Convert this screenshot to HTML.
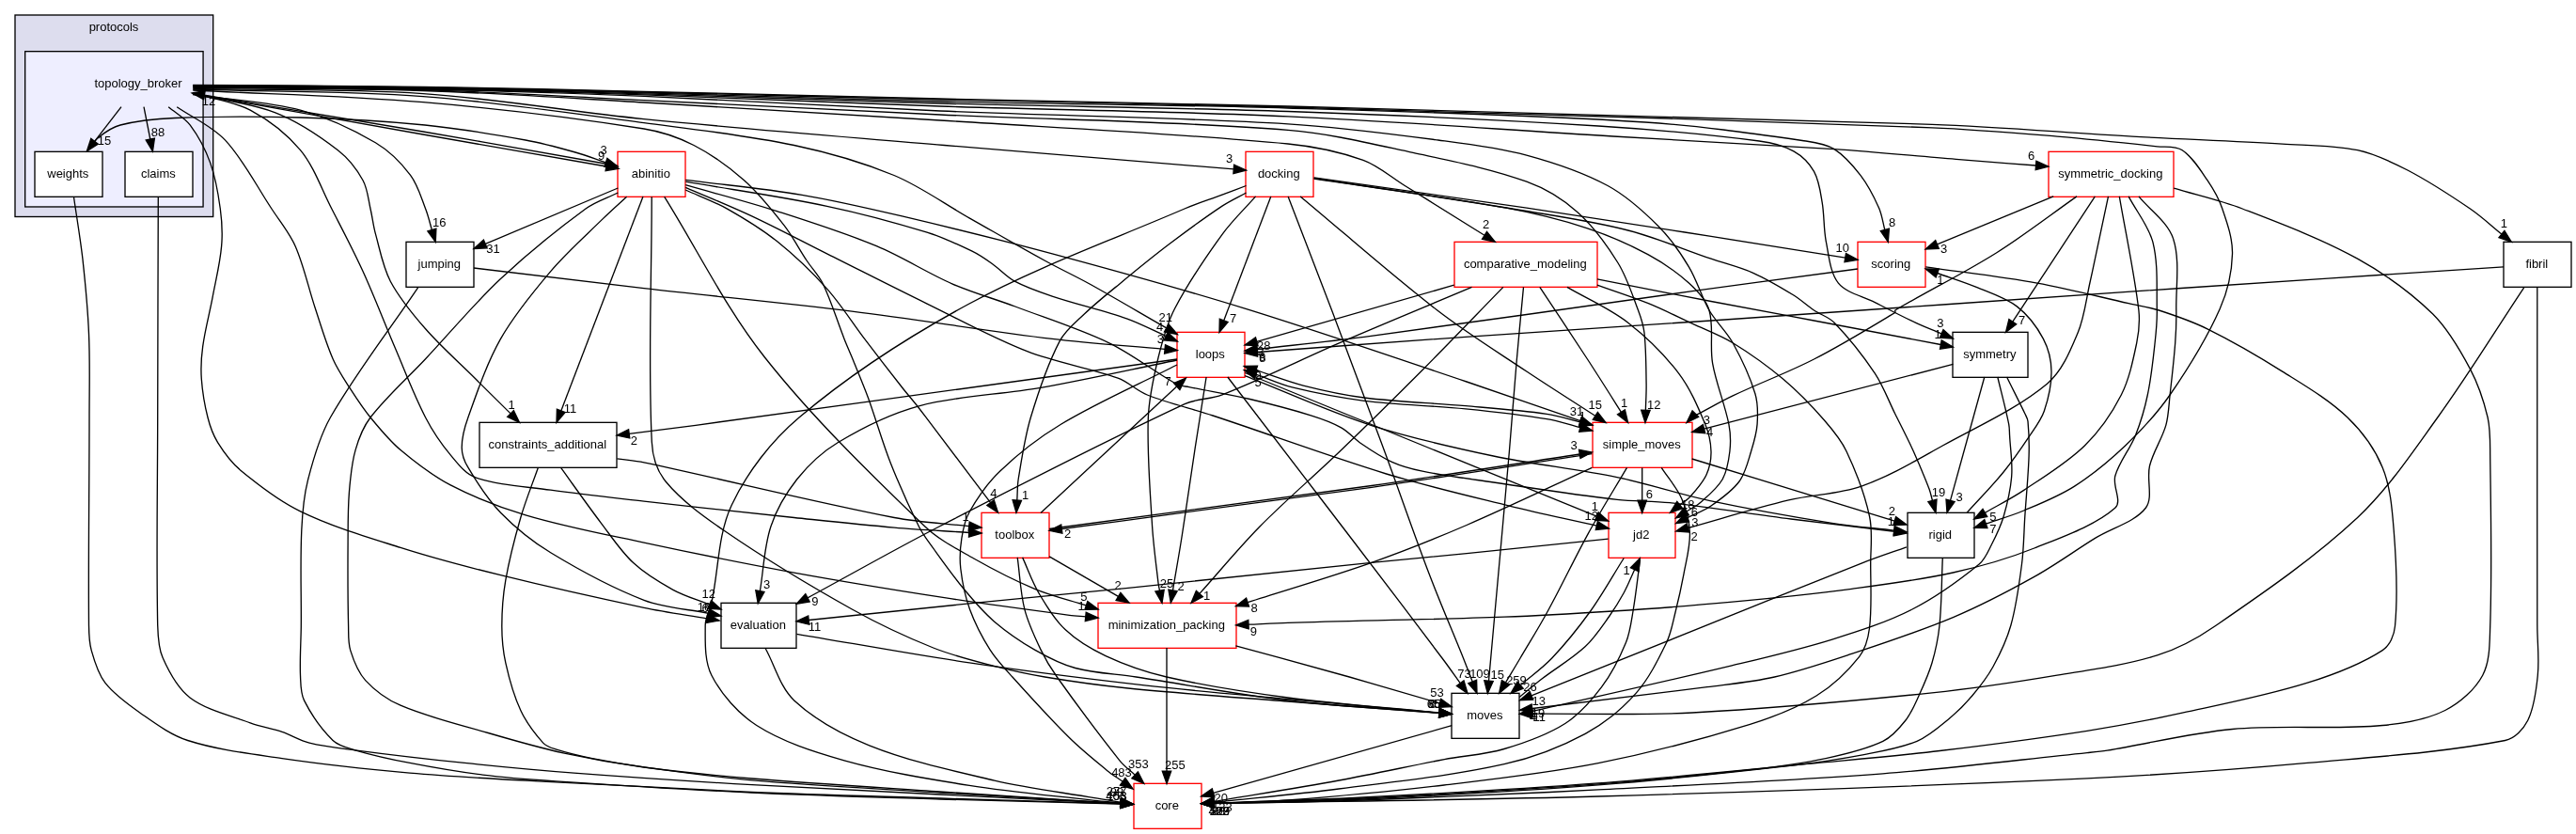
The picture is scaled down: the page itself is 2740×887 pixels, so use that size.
<!DOCTYPE html><html><head><meta charset="utf-8"><title>protocols/topology_broker</title><style>html,body{margin:0;padding:0;background:#fff;overflow:hidden}svg{display:block}text{font-family:"Liberation Sans",sans-serif;font-size:13px;fill:#000}</style></head><body>
<svg width="2740" height="887" viewBox="0 0 2740 887">
<rect x="0" y="0" width="2740" height="887" fill="#fff"/>
<rect x="16" y="16" width="210.7" height="214.5" fill="#ddddee" stroke="#000" stroke-width="1.33"/>
<rect x="26.67" y="54.67" width="189.4" height="165.3" fill="#eeeeff" stroke="#000" stroke-width="1.33"/>
<rect x="37" y="161.33" width="72" height="48" fill="white" stroke="black" stroke-width="1.33"/>
<rect x="133" y="161.33" width="72" height="48" fill="white" stroke="black" stroke-width="1.33"/>
<rect x="657" y="161.33" width="72" height="48" fill="white" stroke="red" stroke-width="1.33"/>
<rect x="1325" y="161.33" width="72" height="48" fill="white" stroke="red" stroke-width="1.33"/>
<rect x="2179" y="161.33" width="133" height="48" fill="white" stroke="red" stroke-width="1.33"/>
<rect x="432" y="257.33" width="72" height="48" fill="white" stroke="black" stroke-width="1.33"/>
<rect x="1547" y="257.33" width="152" height="48" fill="white" stroke="red" stroke-width="1.33"/>
<rect x="1976" y="257.33" width="72" height="48" fill="white" stroke="red" stroke-width="1.33"/>
<rect x="2663" y="257.33" width="72" height="48" fill="white" stroke="black" stroke-width="1.33"/>
<rect x="1252" y="353.33" width="72" height="48" fill="white" stroke="red" stroke-width="1.33"/>
<rect x="2077" y="353.33" width="80" height="48" fill="white" stroke="black" stroke-width="1.33"/>
<rect x="510" y="449.33" width="146" height="48" fill="white" stroke="black" stroke-width="1.33"/>
<rect x="1694" y="449.33" width="106" height="48" fill="white" stroke="red" stroke-width="1.33"/>
<rect x="1044" y="545.33" width="72" height="48" fill="white" stroke="red" stroke-width="1.33"/>
<rect x="1711" y="545.33" width="71" height="48" fill="white" stroke="red" stroke-width="1.33"/>
<rect x="2029" y="545.33" width="71" height="48" fill="white" stroke="black" stroke-width="1.33"/>
<rect x="767" y="641.33" width="80" height="48" fill="white" stroke="black" stroke-width="1.33"/>
<rect x="1168" y="641.33" width="147" height="48" fill="white" stroke="red" stroke-width="1.33"/>
<rect x="1544" y="737.33" width="72" height="48" fill="white" stroke="black" stroke-width="1.33"/>
<rect x="1206" y="833.33" width="72" height="48" fill="white" stroke="red" stroke-width="1.33"/>
<g fill="none" stroke="#000" stroke-width="1.33">
<path d="M78.5,209.5 C81.6,231.4 85.4,253.3 87.9,275.2 C90.8,301.8 93.4,328.4 94.5,355.1 C95.8,384.7 95.0,414.4 95.0,444.0 C95.0,517.7 93.9,591.4 94.5,665.0 C94.6,673.9 94.8,683.1 97.2,691.6 C100.5,703.5 104.3,716.6 111.8,726.2 C121.6,738.8 135.7,748.9 149.1,758.2 C165.0,769.3 181.4,781.6 199.7,787.5 C231.7,797.7 266.3,801.6 300.0,806.6 C345.1,813.2 390.5,818.1 435.9,822.1 C481.1,826.1 526.4,828.3 571.7,830.8 C647.8,835.1 723.9,839.3 800.0,842.5 C866.6,845.3 933.3,846.9 1000.0,849.0 C1064.0,851.0 1128.0,852.9 1192.0,854.9"/>
<path d="M93.0,161.0 C97.0,156.0 100.1,149.9 105.0,146.0 C111.8,140.6 119.6,135.1 128.0,133.0 C146.6,128.3 166.6,126.3 186.0,125.5 C230.6,123.6 275.4,123.7 320.0,125.0 C364.0,126.2 408.2,128.6 452.0,133.0 C487.8,136.6 523.5,142.6 559.0,149.0 C576.9,152.2 594.5,157.1 612.0,162.0 C623.0,165.1 633.6,169.2 644.4,172.8"/>
<path d="M168.3,209.5 C168.1,287.7 167.8,365.8 167.7,444.0 C167.6,517.7 166.2,591.5 167.7,665.0 C168.0,676.7 168.4,689.2 173.1,699.6 C179.9,715.0 189.1,732.3 202.3,742.2 C220.1,755.4 244.6,760.8 266.2,768.8 C277.2,772.9 288.9,774.7 300.0,778.4 C309.9,781.8 319.0,787.6 329.1,790.1 C344.9,794.0 361.4,795.7 377.6,797.8 C416.4,802.9 455.2,807.4 494.1,811.4 C532.9,815.5 571.7,819.2 610.6,822.1 C673.7,826.9 736.8,831.0 800.0,834.7 C866.6,838.6 933.3,841.6 1000.0,845.0 C1064.0,848.2 1128.0,851.4 1192.0,854.6"/>
<path d="M129.0,113.7 L100.6,150.3"/>
<path d="M153.0,113.7 L159.8,148.0"/>
<path d="M179.2,113.7 C186.9,120.2 196.4,125.2 202.3,133.1 C211.2,145.0 218.6,159.0 223.6,173.1 C229.2,188.6 232.1,205.6 234.3,222.0 C236.1,235.2 236.8,248.7 235.6,261.9 C234.1,279.8 229.6,297.5 226.3,315.2 C223.0,333.0 218.1,350.6 215.7,368.4 C214.1,379.8 213.5,391.6 214.3,403.0 C215.3,416.8 217.6,430.7 221.0,444.0 C223.3,453.2 226.7,462.6 231.6,470.6 C238.2,481.2 246.0,491.9 255.6,499.9 C275.3,516.3 296.4,532.7 319.5,543.8 C353.2,560.2 390.0,571.0 426.0,582.4 C461.0,593.6 496.7,602.9 532.5,611.7 C583.1,624.2 634.0,635.6 685.0,646.3 C707.2,651.0 729.6,654.0 751.9,657.8"/>
<path d="M188.2,113.7 C205.4,125.5 225.7,134.1 239.6,149.1 C259.2,170.2 272.7,197.6 288.9,222.0 C297.5,235.2 307.9,247.6 314.2,261.9 C323.4,283.1 328.1,306.4 335.5,328.5 C341.4,346.3 346.6,364.6 354.1,381.7 C359.0,393.0 366.1,403.3 372.7,413.7 C379.4,424.1 386.2,434.5 394.0,444.0 C404.0,456.1 414.1,468.6 426.0,478.6 C442.5,492.5 460.1,506.0 479.2,515.9 C504.5,529.0 531.7,539.7 559.1,547.8 C600.3,560.1 642.9,568.1 685.0,577.1 C738.1,588.5 791.4,599.3 844.7,609.1 C897.8,618.8 951.1,627.4 1004.5,635.7 C1048.8,642.5 1093.2,648.4 1137.6,654.3 C1143.3,655.1 1149.0,655.3 1154.8,655.8"/>
<path d="M205.0,99.0 C225.4,105.1 247.8,107.4 266.2,117.1 C285.9,127.6 305.3,142.6 319.5,159.7 C334.2,177.5 342.0,201.1 352.8,222.0 C364.1,244.1 375.8,266.0 386.0,288.6 C398.4,315.7 408.9,343.7 420.7,371.1 C431.1,395.5 440.4,420.6 452.6,444.0 C459.9,458.2 469.1,471.8 479.2,483.9 C486.8,493.0 495.0,504.1 505.9,507.9 C530.5,516.5 559.0,517.4 585.7,521.2 C618.7,525.9 651.9,529.4 685.0,533.2 C738.2,539.2 791.5,544.9 844.7,550.5 C880.2,554.2 915.7,558.1 951.2,561.1 C977.8,563.4 1004.8,564.7 1031.1,566.5 C1031.2,566.5 1030.8,566.5 1030.7,566.5"/>
<path d="M205.0,99.8 C234.3,106.5 265.2,109.1 292.9,119.8 C316.7,129.0 339.2,144.1 359.4,159.7 C370.3,168.1 379.5,179.9 386.0,191.7 C391.0,200.6 391.7,211.9 394.0,222.0 C396.1,230.8 397.0,239.9 399.4,248.6 C404.1,265.6 407.2,283.8 415.3,299.2 C425.0,317.5 438.9,334.1 452.6,349.8 C469.1,368.7 488.1,385.3 505.9,403.0 C518.2,415.4 530.7,427.6 543.1,439.9"/>
<path d="M205.0,100.6 C243.2,106.1 282.5,107.4 319.5,117.1 C347.3,124.5 374.7,137.2 399.4,151.8 C413.8,160.3 426.6,173.1 436.6,186.4 C444.3,196.5 447.9,209.9 452.6,222.0 C455.5,229.3 457.2,237.1 459.4,244.6"/>
<path d="M205.3,99.5 C286.9,114.0 368.4,128.6 450.0,143.0 C514.9,154.5 579.9,165.7 644.9,177.0"/>
<path d="M657.4,176.5 C588.3,164.3 519.2,151.8 450.0,140.0 C372.5,126.7 294.9,114.1 217.4,101.2"/>
<path d="M657.3,200.0 L516.3,259.4"/>
<path d="M657.3,205.0 C645.9,210.7 633.2,214.5 623.0,222.0 C591.6,245.0 560.9,269.9 532.5,296.5 C504.1,323.1 479.3,353.4 452.6,381.7 C433.1,402.5 411.2,421.7 394.0,444.0 C386.4,454.0 381.5,466.5 378.1,478.6 C373.9,493.1 372.6,508.7 371.4,523.9 C370.0,541.5 370.2,559.4 370.1,577.1 C369.9,606.8 369.9,636.4 370.6,666.0 C370.8,674.6 370.2,683.6 372.7,691.6 C376.2,702.8 380.9,715.0 388.7,723.6 C398.7,734.5 412.1,744.2 426.0,750.2 C455.6,762.9 487.9,770.4 519.2,779.5 C545.6,787.2 572.2,794.9 599.0,800.8 C627.4,807.0 656.2,812.1 685.0,816.0 C723.2,821.1 761.6,824.8 800.0,828.0 C866.6,833.5 933.3,837.5 1000.0,842.0 C1064.0,846.3 1128.0,850.3 1192.0,854.4"/>
<path d="M666.6,209.2 C657.7,217.4 648.6,225.4 640.0,233.9 C621.7,251.9 602.3,269.1 585.7,288.6 C566.5,311.2 547.0,334.7 532.5,360.4 C517.8,386.5 508.0,415.7 497.9,444.0 C494.2,454.2 491.2,465.4 491.2,475.9 C491.2,483.2 494.1,490.9 497.9,497.2 C507.9,514.0 518.9,531.2 532.5,545.2 C548.2,561.3 566.4,576.0 585.7,587.8 C617.3,607.0 650.7,625.1 685.0,638.4 C706.7,646.7 730.9,647.7 753.8,652.3"/>
<path d="M693.2,209.2 C693.3,296.1 689.1,383.8 693.3,470.0 C694.0,484.7 698.9,500.9 708.0,512.0 C725.1,532.8 749.1,549.8 772.0,565.5 C815.2,595.1 860.5,622.4 906.3,648.0 C934.1,663.5 963.2,677.2 992.7,689.0 C1013.5,697.3 1035.6,702.7 1057.4,708.4 C1075.2,713.0 1093.2,717.0 1111.4,720.0 C1140.8,724.9 1170.4,729.0 1200.0,732.0 C1256.6,737.7 1313.3,741.5 1370.0,746.0 C1423.6,750.3 1477.3,754.3 1530.9,758.4"/>
<path d="M706.6,209.2 C742.2,266.1 771.9,327.6 813.4,380.0 C864.4,444.5 924.6,503.0 983.9,560.0 C998.7,574.3 1017.9,583.8 1035.8,594.0 C1056.8,605.9 1078.4,617.1 1100.6,626.3 C1118.2,633.7 1137.1,638.1 1155.3,643.9"/>
<path d="M684.0,209.0 L596.8,436.9"/>
<path d="M729.2,191.3 C770.5,196.7 812.0,200.4 853.0,207.3 C888.8,213.3 924.2,221.6 959.5,229.9 C1012.9,242.5 1066.2,255.6 1119.2,269.9 C1188.1,288.4 1256.9,307.4 1325.0,328.4 C1403.8,352.8 1481.8,379.8 1560.0,406.0 C1600.5,419.6 1640.7,433.8 1681.1,447.7"/>
<path d="M729.2,193.2 C779.3,201.9 829.9,208.8 879.6,219.3 C915.5,226.8 951.1,236.4 986.1,247.2 C1002.6,252.4 1018.5,259.7 1034.0,267.2 C1041.6,270.8 1048.5,275.7 1055.3,280.5 C1063.6,286.3 1070.5,294.4 1079.3,299.2 C1091.8,305.9 1105.6,310.6 1119.2,315.1 C1145.6,323.9 1172.9,329.9 1199.1,339.1 C1213.2,344.1 1226.5,351.4 1240.2,357.5"/>
<path d="M729.2,196.7 C761.6,206.0 794.3,214.3 826.4,224.6 C862.2,236.1 898.2,247.5 932.9,261.9 C960.3,273.3 985.5,289.9 1012.7,301.8 C1034.5,311.3 1057.6,317.7 1079.8,326.0 C1113.3,338.7 1147.7,349.4 1179.8,364.8 C1204.9,376.9 1227.1,395.1 1251.5,408.5 C1255.4,410.7 1260.3,410.7 1264.8,411.6 C1286.3,416.0 1308.1,419.5 1329.5,424.5 C1351.2,429.6 1373.0,435.2 1394.3,441.8 C1405.3,445.2 1416.6,449.1 1426.6,454.8 C1434.6,459.2 1440.6,466.9 1448.2,472.0 C1458.6,479.1 1469.2,486.3 1480.6,491.4 C1490.8,496.0 1501.9,499.0 1513.0,501.2 C1537.9,506.1 1563.3,509.3 1588.5,513.0 C1632.3,519.4 1676.0,526.3 1720.0,531.4 C1738.5,533.5 1757.4,532.6 1776.0,534.7 C1819.1,539.5 1862.0,546.5 1905.0,552.0 C1941.0,556.6 1977.0,560.7 2013.0,565.0 C2013.6,565.1 2014.2,565.2 2014.8,565.2"/>
<path d="M729.2,199.3 C752.7,209.5 776.5,219.1 799.7,229.9 C826.7,242.6 853.0,256.6 879.6,269.9 C915.1,287.6 950.4,305.7 986.1,323.1 C1021.4,340.3 1056.1,359.5 1092.6,373.7 C1123.8,385.9 1157.7,390.9 1189.1,402.2 C1200.3,406.3 1209.2,415.6 1220.3,420.0 C1242.8,428.9 1266.9,434.4 1290.0,442.0 C1351.7,462.3 1412.6,485.1 1474.6,504.0 C1518.1,517.2 1562.4,527.4 1606.5,538.3 C1637.0,545.8 1667.7,552.1 1698.3,559.1"/>
<path d="M729.2,202.0 C743.8,208.6 759.1,214.1 773.1,221.9 C791.5,232.3 809.9,243.4 826.4,256.6 C845.4,271.8 863.3,289.0 879.6,307.1 C894.4,323.6 906.1,342.7 919.6,360.4 C932.7,377.7 946.0,394.9 959.5,412.0 C965.3,419.5 971.7,426.5 977.4,434.0 C1003.0,467.4 1028.2,501.1 1053.6,534.7"/>
<path d="M504.0,285.0 C564.3,292.2 624.6,299.8 685.0,306.7 C758.7,315.1 832.6,322.0 906.2,331.1 C977.4,339.9 1048.1,351.8 1119.2,360.4 C1159.0,365.2 1199.1,367.7 1239.1,371.4"/>
<path d="M444.6,305.9 C413.6,351.9 378.9,396.1 351.4,444.0 C339.8,464.4 333.3,487.9 327.5,510.6 C323.1,527.8 321.6,546.0 320.8,563.8 C319.2,597.8 320.6,632.0 320.3,666.0 C320.1,683.4 318.8,700.9 319.5,718.2 C319.9,727.2 319.6,737.0 323.5,744.9 C331.1,760.1 342.0,775.6 354.1,787.5 C360.0,793.3 369.4,795.4 377.6,797.8 C396.7,803.4 416.3,807.7 435.9,811.4 C461.6,816.4 487.5,820.8 513.5,824.1 C539.3,827.3 565.2,829.1 591.1,830.8 C660.7,835.5 730.3,839.8 800.0,843.1 C866.6,846.2 933.3,848.0 1000.0,850.0 C1064.0,851.9 1128.0,853.3 1192.0,855.0"/>
<path d="M656.3,487.9 C665.9,489.3 675.5,489.9 685.0,491.9 C773.9,510.8 862.1,533.1 951.2,550.5 C977.4,555.6 1004.2,556.6 1030.7,559.6"/>
<path d="M596.4,497.2 C610.6,516.8 624.4,536.6 639.0,555.8 C650.1,570.4 660.3,586.2 673.6,598.6 C685.8,610.0 700.8,619.0 715.5,627.1 C727.8,633.9 741.6,637.8 754.7,643.1"/>
<path d="M572.4,497.2 C566.2,515.0 559.0,532.5 553.8,550.5 C547.5,572.4 541.7,594.6 537.8,617.1 C535.0,633.2 533.8,649.7 533.8,666.0 C533.8,679.0 535.0,692.3 537.8,704.9 C541.6,722.1 546.4,739.7 553.8,755.5 C559.7,768.1 568.6,780.0 577.7,790.1 C581.0,793.8 586.4,795.4 591.1,796.9 C603.8,800.9 616.9,804.0 630.0,806.6 C649.2,810.4 668.7,813.6 688.2,816.3 C725.4,821.4 762.6,826.7 800.0,829.9 C866.5,835.6 933.3,838.8 1000.0,843.0 C1064.0,847.0 1128.0,850.7 1192.0,854.5"/>
<path d="M847.4,674.3 C908.6,684.5 969.7,695.9 1031.1,704.9 C1093.1,714.1 1155.3,721.8 1217.5,728.9 C1268.2,734.7 1319.2,738.8 1370.0,743.5 C1423.7,748.6 1477.3,753.3 1531.0,758.2"/>
<path d="M814.1,689.5 C824.3,708.0 829.8,730.9 844.7,744.9 C866.7,765.4 896.0,781.4 924.6,792.8 C967.0,809.8 1012.9,819.6 1057.7,830.1 C1092.8,838.2 1128.7,842.6 1164.2,848.7 C1173.5,850.3 1182.9,851.7 1192.2,853.2"/>
<path d="M205.3,94.5 C286.9,96.2 368.7,94.2 450.0,99.6 C528.6,104.9 606.5,118.8 685.0,126.6 C791.4,137.1 898.0,145.4 1004.5,154.5 C1107.1,163.2 1209.7,171.4 1312.2,179.9"/>
<path d="M205.3,95.2 C286.9,97.7 368.7,96.6 450.0,102.6 C528.6,108.4 606.8,120.3 685.0,130.6 C738.4,137.6 792.2,143.5 844.7,154.5 C880.8,162.1 917.0,172.4 951.0,186.5 C979.1,198.2 1004.3,216.7 1031.0,231.8 C1057.7,246.9 1084.1,262.3 1111.0,277.0 C1126.8,285.7 1143.2,293.3 1159.0,302.0 C1186.5,317.2 1213.5,333.3 1240.8,348.9"/>
<path d="M205.3,96.0 C286.9,100.2 368.7,101.7 450.0,108.7 C528.6,115.4 607.3,124.6 685.0,137.0 C703.3,139.9 721.6,146.1 738.0,154.5 C757.1,164.3 775.4,177.5 791.5,191.8 C807.4,205.9 820.9,222.9 834.0,239.7 C843.1,251.3 849.8,264.7 858.0,277.0 C863.6,285.5 871.0,292.9 875.4,302.0 C884.4,320.7 890.3,341.0 898.0,360.4 C900.6,367.0 903.5,373.4 906.2,380.0 C912.0,394.4 918.1,408.6 923.5,423.2 C931.8,446.0 938.3,469.6 947.2,492.2 C956.3,515.2 966.4,537.9 977.4,560.0 C981.5,568.3 987.3,575.7 992.7,583.2 C1003.2,597.8 1013.6,612.5 1025.1,626.3 C1035.1,638.4 1045.5,650.7 1057.4,660.9 C1070.7,672.2 1085.4,682.4 1100.6,691.1 C1114.2,698.9 1128.7,706.5 1143.8,710.5 C1164.6,716.1 1187.0,716.7 1208.5,720.0 C1262.4,728.2 1315.9,738.6 1370.0,745.0 C1423.4,751.3 1477.3,753.9 1530.9,758.3"/>
<path d="M205.3,93.4 C286.9,94.4 368.5,93.8 450.0,96.5 C528.4,99.0 606.7,104.5 685.0,109.0 C790.0,115.0 895.0,121.3 1000.0,128.0 C1123.4,135.9 1247.1,141.4 1370.0,153.0 C1397.1,155.6 1424.6,161.3 1450.0,170.4 C1466.1,176.2 1479.6,188.4 1494.3,197.5 C1522.6,215.0 1550.8,232.7 1579.0,250.3"/>
<path d="M205.3,92.8 C286.9,93.8 368.5,93.4 450.0,95.7 C528.4,98.0 606.7,102.9 685.0,106.6 C790.0,111.6 895.0,117.1 1000.0,122.0 C1123.3,127.7 1247.2,128.5 1370.0,138.4 C1414.8,142.0 1459.0,152.9 1503.0,162.4 C1543.6,171.2 1585.1,179.2 1623.8,193.2 C1643.3,200.2 1662.3,211.8 1677.7,225.5 C1694.7,240.6 1708.9,260.1 1720.9,279.5 C1730.5,294.9 1736.0,312.9 1742.5,330.0 C1745.4,337.7 1748.0,345.8 1749.0,354.0 C1750.9,371.8 1750.8,389.9 1751.1,407.9 C1751.3,417.3 1750.6,426.8 1750.4,436.2"/>
<path d="M205.3,92.3 C286.9,93.2 368.5,93.3 450.0,95.0 C528.4,96.6 606.7,99.0 685.0,102.3 C790.0,106.7 895.0,113.5 1000.0,118.0 C1123.3,123.3 1246.9,124.6 1370.0,131.8 C1423.4,134.9 1476.6,142.0 1529.7,149.0 C1561.2,153.1 1593.2,156.9 1623.8,165.1 C1653.3,173.1 1683.4,183.1 1710.1,197.5 C1730.1,208.3 1747.9,224.5 1764.1,240.7 C1776.7,253.3 1787.2,268.5 1796.4,283.8 C1805.2,298.3 1809.6,315.4 1818.0,330.0 C1825.1,342.3 1836.3,352.3 1843.2,364.8 C1852.6,381.9 1861.3,400.2 1866.9,418.7 C1870.0,428.9 1869.8,440.4 1869.1,451.1 C1868.4,460.8 1865.5,470.6 1862.6,480.0 C1859.2,490.9 1856.6,503.0 1850.0,512.0 C1842.4,522.4 1830.8,530.5 1820.0,538.0 C1812.3,543.4 1803.0,546.5 1794.5,550.8"/>
<path d="M205.3,91.8 C286.9,92.7 368.4,92.9 450.0,94.4 C528.3,95.9 606.7,98.2 685.0,100.8 C790.0,104.4 895.0,109.5 1000.0,113.0 C1123.3,117.1 1246.8,118.3 1370.0,123.8 C1485.4,129.0 1600.7,138.1 1716.0,145.0 C1794.4,149.7 1872.8,153.4 1951.1,158.6 C1994.3,161.5 2037.4,165.9 2080.6,169.4 C2108.9,171.7 2137.2,173.8 2165.5,176.0"/>
<path d="M205.3,91.4 C286.9,92.2 368.4,92.4 450.0,93.8 C528.3,95.2 606.7,97.5 685.0,99.8 C790.0,102.9 895.0,107.1 1000.0,110.0 C1123.3,113.4 1246.7,114.3 1370.0,118.5 C1480.0,122.3 1590.1,127.1 1700.0,134.0 C1757.2,137.6 1814.5,142.7 1871.2,150.0 C1883.8,151.6 1897.1,154.8 1907.9,160.8 C1916.5,165.6 1924.7,173.8 1929.5,182.4 C1934.8,191.8 1936.3,203.8 1938.1,214.8 C1940.6,229.0 1939.6,243.8 1942.5,257.9 C1945.4,272.6 1946.7,290.3 1955.4,301.1 C1963.9,311.6 1981.2,314.9 1994.3,321.6 C2008.6,328.9 2022.9,336.3 2037.4,343.2 C2046.5,347.4 2055.9,350.9 2065.1,354.8"/>
<path d="M205.3,91.0 C286.9,91.8 368.4,92.0 450.0,93.3 C528.3,94.6 606.7,96.7 685.0,98.8 C790.0,101.6 895.0,105.5 1000.0,108.0 C1123.3,110.9 1246.7,111.4 1370.0,115.0 C1496.7,118.7 1623.6,122.0 1750.0,130.0 C1807.2,133.6 1864.2,141.9 1920.9,150.0 C1931.2,151.5 1942.5,153.2 1951.1,158.6 C1961.9,165.5 1971.2,176.3 1979.1,186.7 C1987.1,197.1 1993.2,209.2 1998.6,221.2 C2001.8,228.5 2002.8,236.7 2004.8,244.5"/>
<path d="M205.3,90.3 C286.9,91.0 368.4,91.1 450.0,92.3 C528.3,93.4 606.7,95.5 685.0,97.3 C790.0,99.7 895.0,102.6 1000.0,105.0 C1123.3,107.8 1246.7,109.8 1370.0,113.0 C1598.3,118.9 1826.7,124.1 2055.0,132.3 C2126.1,134.8 2197.0,141.1 2268.0,145.1 C2321.2,148.1 2374.5,149.8 2427.7,153.1 C2454.4,154.7 2481.7,154.3 2507.6,159.7 C2526.1,163.6 2544.0,172.3 2560.9,181.0 C2583.9,193.0 2605.9,207.4 2627.4,222.0 C2639.3,230.1 2649.8,240.0 2660.9,249.0"/>
<path d="M205.3,90.6 C286.9,91.3 368.4,91.5 450.0,92.8 C528.3,94.0 606.7,96.1 685.0,98.0 C790.0,100.5 895.0,103.5 1000.0,106.0 C1123.3,108.9 1246.7,110.5 1370.0,114.0 C1598.4,120.5 1826.7,127.1 2055.0,135.8 C2099.4,137.5 2143.8,141.4 2188.1,145.1 C2223.7,148.1 2259.2,151.9 2294.6,155.8 C2303.5,156.7 2314.3,155.0 2321.2,159.7 C2332.0,167.0 2340.1,180.3 2347.9,191.7 C2354.3,201.1 2360.2,211.3 2363.8,222.0 C2369.1,237.4 2374.9,254.0 2374.5,269.9 C2374.0,289.5 2369.2,310.4 2361.2,328.5 C2347.1,360.4 2328.0,391.1 2308.1,420.0 C2294.5,439.6 2277.8,457.5 2260.6,474.0 C2244.0,489.8 2225.9,504.8 2206.6,517.1 C2189.9,527.8 2171.0,535.3 2152.7,543.0 C2139.6,548.6 2125.8,552.4 2112.4,557.0"/>
<path d="M1325.5,197.5 C1317.0,200.7 1308.5,204.0 1300.0,207.2 C1286.7,212.2 1273.1,216.4 1260.0,222.0 C1183.4,255.0 1104.1,283.4 1031.0,323.0 C967.4,357.4 904.7,397.7 850.0,444.0 C820.4,469.0 794.5,502.6 778.2,537.2 C763.5,568.3 764.4,606.5 756.9,641.0 C755.1,649.1 750.2,656.8 750.2,665.0 C750.2,682.6 749.1,703.0 756.9,718.2 C767.3,738.5 785.2,758.9 804.8,771.5 C832.3,789.1 865.9,799.7 898.0,808.8 C941.4,821.0 986.5,828.3 1031.1,835.4 C1075.2,842.4 1119.8,846.2 1164.2,851.4 C1173.5,852.4 1182.8,853.1 1192.1,854.0"/>
<path d="M1325.5,205.0 C1317.0,209.7 1308.1,213.7 1300.0,219.1 C1280.9,231.8 1262.4,245.4 1244.1,259.3 C1226.0,273.0 1208.4,287.4 1190.9,301.9 C1178.2,312.3 1165.4,322.5 1153.6,333.8 C1144.1,342.9 1132.9,351.6 1127.0,363.1 C1113.8,388.5 1104.4,417.0 1096.1,444.8 C1089.9,465.8 1086.8,487.8 1083.2,509.5 C1082.0,516.9 1082.3,524.5 1081.8,532.0"/>
<path d="M1335.6,208.9 C1323.7,222.4 1310.5,234.8 1300.0,249.3 C1281.7,274.6 1263.8,300.9 1249.4,328.5 C1241.1,344.5 1236.4,362.5 1232.1,380.0 C1227.0,401.2 1222.1,423.0 1221.3,444.8 C1220.0,483.0 1223.3,521.7 1225.6,560.0 C1226.9,580.1 1229.7,600.0 1232.0,620.0 C1232.3,622.8 1233.0,625.5 1233.5,628.2"/>
<path d="M1351.8,208.9 L1301.7,340.9"/>
<path d="M1370.1,208.9 C1385.6,249.3 1401.3,289.6 1416.6,330.0 C1435.4,379.9 1454.2,429.9 1472.7,480.0 C1488.7,523.3 1503.6,566.9 1520.0,610.0 C1531.5,640.2 1544.4,670.0 1556.5,700.0 C1559.8,708.3 1563.0,716.7 1566.2,725.0"/>
<path d="M1383.1,208.9 C1431.7,249.3 1478.9,291.4 1528.8,330.0 C1559.1,353.4 1591.9,373.7 1623.8,395.0 C1647.9,411.1 1672.5,426.5 1696.8,442.3"/>
<path d="M1397.6,188.9 C1473.0,199.6 1548.4,210.1 1623.8,221.2 C1689.2,230.9 1754.6,241.2 1820.0,251.4 C1867.6,258.9 1915.2,266.6 1962.8,274.2"/>
<path d="M1397.6,189.5 C1473.0,201.2 1548.5,212.0 1623.8,224.5 C1659.9,230.5 1696.3,235.8 1731.7,245.0 C1761.7,252.7 1790.5,265.2 1820.0,275.2 C1834.9,280.3 1850.4,284.0 1864.8,290.3 C1879.7,296.9 1894.0,305.5 1907.9,314.0 C1915.5,318.7 1922.1,325.0 1929.5,330.0 C1936.5,334.7 1945.3,337.2 1951.1,343.2 C1966.9,359.5 1981.6,378.1 1994.3,397.1 C2003.1,410.4 2008.7,425.9 2015.8,440.3 C2022.4,453.5 2029.2,466.6 2035.3,480.0 C2041.2,493.2 2046.8,506.5 2052.0,520.0 C2053.5,524.0 2054.3,528.3 2055.5,532.5"/>
<path d="M1397.6,190.1 C1465.8,200.5 1534.4,209.0 1602.2,221.2 C1631.3,226.5 1660.4,233.6 1688.5,242.8 C1710.8,250.1 1732.7,259.8 1753.3,270.9 C1768.6,279.2 1783.6,289.4 1796.4,301.1 C1805.2,309.1 1814.8,318.9 1818.0,330.0 C1823.1,347.3 1818.4,367.9 1821.6,386.3 C1825.4,408.2 1834.6,429.3 1838.9,451.1 C1840.7,460.5 1841.0,470.5 1839.9,480.0 C1838.7,490.2 1837.0,501.3 1832.0,510.0 C1826.4,519.7 1816.6,527.4 1808.0,535.0 C1803.9,538.7 1798.6,540.9 1793.9,543.9"/>
<path d="M1546.7,303.2 L1336.8,363.3"/>
<path d="M1565.5,305.4 C1520.2,324.5 1474.7,343.1 1429.5,362.6 C1386.2,381.3 1343.8,402.5 1300.0,419.8 C1287.3,424.8 1272.5,423.9 1260.2,429.6 C1172.2,470.6 1085.5,515.5 999.0,560.0 C951.8,584.3 905.7,610.6 859.0,635.9"/>
<path d="M1598.9,305.4 C1571.2,333.8 1543.8,362.5 1515.8,390.7 C1485.9,420.7 1455.7,450.6 1425.2,480.0 C1397.1,507.0 1367.3,532.3 1340.0,560.0 C1317.6,582.8 1297.3,607.6 1275.9,631.4"/>
<path d="M1620.5,305.4 C1618.0,332.4 1615.3,359.3 1613.0,386.3 C1610.3,417.5 1608.1,448.8 1605.4,480.0 C1600.5,536.7 1595.3,593.3 1590.2,650.0 C1588.7,666.7 1587.2,683.3 1585.7,700.0 C1585.0,708.1 1584.2,716.1 1583.5,724.2"/>
<path d="M1637.8,305.4 C1654.7,330.9 1671.8,356.4 1688.5,382.0 C1700.7,400.7 1712.5,419.5 1724.4,438.3"/>
<path d="M1666.9,305.4 C1688.5,318.0 1712.1,328.0 1731.7,343.2 C1751.6,358.6 1770.4,377.1 1785.6,397.1 C1797.8,413.1 1806.0,432.5 1813.7,451.1 C1817.5,460.1 1819.7,470.4 1820.0,480.0 C1820.2,488.3 1818.4,497.5 1815.0,505.0 C1811.1,513.5 1804.3,520.9 1798.0,528.0 C1794.9,531.6 1790.5,534.0 1786.8,537.0"/>
<path d="M1698.9,296.8 C1739.2,304.7 1779.6,312.8 1820.0,320.5 C1856.4,327.5 1893.0,334.1 1929.5,341.0 C1974.5,349.5 2019.4,358.0 2064.3,366.5"/>
<path d="M1698.9,303.2 C1717.0,309.7 1735.4,315.4 1753.3,322.7 C1769.2,329.1 1784.5,337.0 1800.0,344.2 C1814.4,351.0 1829.6,356.5 1843.2,364.8 C1862.0,376.3 1880.3,389.4 1897.1,403.6 C1912.6,416.7 1926.9,431.5 1940.3,446.8 C1949.2,457.0 1958.3,467.8 1964.0,480.0 C1974.4,502.0 1983.6,525.8 1988.6,549.5 C1992.1,565.8 1989.7,583.2 1989.7,600.0 C1989.7,622.7 1991.2,645.8 1988.5,668.0 C1987.2,678.5 1984.1,690.1 1977.7,698.3 C1965.3,714.1 1949.3,729.3 1932.0,740.0 C1910.6,753.3 1885.9,762.8 1861.5,770.3 C1808.5,786.7 1754.4,800.9 1700.0,811.7 C1645.9,822.4 1590.8,828.5 1536.0,835.0 C1480.8,841.6 1425.4,846.7 1370.0,851.0 C1343.8,853.1 1317.5,853.1 1291.2,854.2"/>
<path d="M1975.9,286.0 C1917.3,293.9 1858.6,301.6 1800.0,309.7 C1741.2,317.8 1682.5,326.4 1623.8,334.5 C1566.2,342.5 1508.7,350.9 1451.1,358.3 C1413.2,363.2 1375.2,367.1 1337.2,371.5"/>
<path d="M2048.2,283.8 C2087.8,289.6 2127.6,294.0 2166.9,301.1 C2199.6,307.0 2231.7,315.4 2264.1,322.7 C2274.9,325.1 2285.9,326.6 2296.4,330.0 C2313.9,335.7 2331.4,341.7 2347.9,349.8 C2375.2,363.3 2401.9,378.7 2427.7,395.1 C2451.6,410.1 2476.9,424.8 2497.0,444.0 C2512.4,458.8 2526.2,477.7 2534.2,497.2 C2542.6,517.6 2544.4,541.4 2546.2,563.8 C2548.9,597.7 2550.7,632.8 2547.5,666.0 C2546.7,675.4 2542.0,686.6 2534.2,691.6 C2510.9,706.7 2482.0,717.6 2454.4,726.2 C2411.0,739.8 2365.8,748.5 2321.2,758.2 C2287.7,765.5 2253.9,772.0 2220.0,777.3 C2167.9,785.4 2115.6,792.2 2063.3,798.5 C2023.0,803.3 1982.5,806.9 1942.0,810.7 C1861.4,818.3 1780.8,826.8 1700.0,832.9 C1616.8,839.2 1533.4,843.7 1450.0,848.0 C1397.1,850.8 1344.1,852.1 1291.2,854.2"/>
<path d="M2663.0,283.8 C2548.7,291.4 2434.3,298.7 2320.0,306.5 C2153.3,317.8 1986.7,329.7 1820.0,341.0 C1733.0,346.9 1646.0,352.2 1559.0,358.3 C1485.1,363.4 1411.2,369.1 1337.3,374.5"/>
<path d="M2684.7,305.9 C2654.0,351.9 2625.2,399.3 2592.8,444.0 C2566.2,480.8 2540.5,519.6 2507.6,550.5 C2461.5,593.6 2408.1,630.1 2355.9,666.0 C2337.1,679.0 2316.3,690.2 2294.6,696.9 C2260.3,707.6 2223.8,712.3 2188.1,718.2 C2143.9,725.6 2099.6,732.3 2055.0,736.9 C1970.2,745.6 1885.1,753.5 1800.0,758.0 C1743.4,761.0 1686.5,758.8 1629.8,759.2"/>
<path d="M2698.8,305.9 C2698.8,425.6 2698.6,545.3 2698.8,665.0 C2698.8,682.8 2701.1,700.7 2699.3,718.2 C2697.7,734.4 2695.6,752.2 2688.7,766.2 C2684.1,775.3 2675.0,785.5 2664.7,787.5 C2596.9,800.6 2524.6,805.1 2454.4,811.4 C2376.4,818.5 2298.2,824.1 2220.0,827.8 C2046.8,836.0 1873.4,842.0 1700.0,847.0 C1563.8,850.9 1427.5,852.0 1291.2,854.5"/>
<path d="M2184.2,208.9 L2060.5,259.9"/>
<path d="M2209.0,208.9 C2180.6,228.9 2153.1,250.3 2123.8,268.7 C2088.7,290.7 2051.1,309.2 2015.8,330.0 C2015.2,330.4 2016.5,332.0 2015.8,332.4 C1987.7,349.3 1959.0,366.9 1929.5,382.0 C1901.5,396.4 1871.7,407.3 1843.2,420.9 C1828.5,427.8 1812.1,437.7 1800.0,443.5 C1798.8,444.1 1802.3,441.2 1803.4,440.1"/>
<path d="M2228.4,208.9 L2140.8,342.2"/>
<path d="M2242.5,208.9 C2236.0,239.3 2229.8,269.7 2223.1,300.0 C2219.0,318.1 2217.2,337.1 2210.1,354.0 C2202.1,373.1 2193.4,394.8 2177.7,407.9 C2145.5,434.8 2104.1,453.1 2066.3,474.0 C2038.2,489.5 2010.1,506.5 1980.0,517.1 C1955.4,525.8 1928.0,525.7 1902.5,531.9 C1866.5,540.5 1831.2,551.6 1795.5,561.5"/>
<path d="M2254.3,208.9 C2261.2,249.3 2270.1,289.5 2274.9,330.0 C2276.2,341.5 2275.0,353.5 2272.7,364.8 C2268.8,383.5 2264.8,403.1 2256.3,420.0 C2246.4,439.5 2233.1,458.6 2217.4,474.0 C2198.5,492.5 2174.9,506.5 2152.7,521.4 C2139.5,530.3 2125.1,537.4 2111.3,545.3"/>
<path d="M2264.1,208.9 C2272.7,225.3 2285.6,240.4 2290.0,257.9 C2295.7,280.8 2293.8,306.0 2294.3,330.0 C2294.5,341.6 2293.4,353.2 2292.1,364.8 C2290.1,383.2 2288.2,401.9 2284.3,420.0 C2281.3,434.7 2276.9,449.3 2271.4,463.2 C2265.4,478.1 2254.0,491.2 2249.8,506.3 C2246.9,516.9 2257.4,533.4 2250.0,540.0 C2228.8,558.9 2193.5,571.1 2163.8,583.0 C2136.0,594.1 2106.7,602.5 2077.4,609.0 C2041.9,616.9 2005.6,621.5 1969.5,626.3 C1926.5,632.0 1883.2,636.4 1840.0,640.4 C1798.5,644.3 1757.0,647.3 1715.4,650.0 C1677.0,652.5 1638.5,654.8 1600.0,656.2 C1523.4,659.0 1446.7,660.1 1370.0,662.4 C1356.0,662.8 1342.0,663.6 1328.0,664.2"/>
<path d="M2274.9,208.9 C2287.1,223.8 2305.8,236.2 2311.5,253.6 C2319.1,276.6 2314.3,304.5 2314.8,330.0 C2315.0,341.6 2314.6,353.2 2313.7,364.8 C2312.3,383.2 2310.2,401.6 2308.1,420.0 C2306.9,430.8 2306.7,442.0 2303.8,452.4 C2299.5,467.2 2290.1,480.6 2286.5,495.5 C2283.0,509.9 2290.5,529.4 2282.5,540.0 C2271.2,555.0 2246.4,561.4 2228.5,572.4 C2206.8,585.8 2186.1,601.0 2163.8,613.4 C2135.7,629.1 2107.0,644.1 2077.4,656.6 C2042.2,671.4 2005.7,683.3 1969.5,695.4 C1942.4,704.4 1915.2,713.6 1887.5,720.0 C1864.0,725.4 1839.8,727.5 1815.8,730.6 C1753.9,738.6 1691.9,745.9 1630.0,753.5 C1629.9,753.5 1629.8,753.5 1629.7,753.5"/>
<path d="M2312.2,200.2 C2336.5,207.5 2361.5,213.0 2385.1,222.0 C2426.6,238.0 2468.9,253.9 2507.6,275.2 C2536.3,291.1 2564.2,311.1 2587.5,333.8 C2604.1,350.1 2616.4,371.7 2627.4,392.4 C2635.9,408.4 2641.9,426.4 2646.1,444.0 C2649.0,456.9 2648.6,470.6 2648.7,483.9 C2649.4,544.6 2650.8,605.5 2648.7,666.0 C2648.1,683.6 2648.6,703.6 2640.7,718.2 C2632.6,733.4 2616.5,747.6 2600.8,755.5 C2581.1,765.4 2556.9,769.5 2534.2,771.5 C2481.4,776.2 2427.4,770.7 2374.5,775.5 C2329.8,779.6 2285.8,790.9 2241.4,798.1 C2234.3,799.3 2227.1,799.9 2220.0,800.6 C2147.6,808.1 2075.4,817.3 2002.8,822.8 C1902.0,830.4 1801.0,834.7 1700.0,839.9 C1616.7,844.1 1533.4,848.0 1450.0,851.0 C1397.1,852.9 1344.1,853.3 1291.2,854.4"/>
<path d="M2077.4,387.4 L1812.6,456.2"/>
<path d="M2110.8,401.0 L2074.5,532.4"/>
<path d="M2124.8,401.0 C2128.8,417.7 2133.3,434.3 2136.7,451.1 C2137.5,455.0 2137.3,459.1 2137.6,463.2 C2138.3,477.6 2140.8,492.1 2139.7,506.3 C2138.6,520.9 2135.2,535.5 2131.1,549.5 C2128.0,560.0 2123.1,570.0 2118.1,579.7 C2114.5,586.8 2111.3,595.0 2105.2,600.0 C2083.3,617.8 2059.3,635.1 2034.0,648.0 C2006.9,661.8 1977.2,671.2 1948.0,680.3 C1912.5,691.3 1876.2,699.7 1840.0,708.4 C1770.2,725.1 1700.0,740.5 1630.0,756.5 C1629.8,756.5 1629.7,756.6 1629.5,756.6"/>
<path d="M2134.6,401.0 C2141.0,414.1 2147.7,427.1 2154.0,440.3 C2155.2,442.8 2156.7,445.3 2157.0,448.1 C2158.1,460.1 2158.5,472.5 2158.1,484.8 C2157.4,506.4 2155.2,527.9 2153.8,549.5 C2152.7,566.3 2152.7,583.3 2150.5,600.0 C2147.7,621.8 2144.8,643.9 2138.9,665.0 C2134.6,680.3 2127.6,695.1 2120.0,709.0 C2113.9,720.1 2105.9,730.3 2097.7,740.0 C2090.4,748.7 2082.2,757.0 2073.4,764.2 C2062.6,773.1 2051.7,783.0 2039.0,788.4 C2021.4,795.8 2001.6,799.0 1982.6,802.6 C1955.9,807.7 1928.9,811.6 1901.9,814.7 C1834.7,822.4 1767.4,829.6 1700.0,834.9 C1616.8,841.4 1533.4,846.0 1450.0,850.0 C1397.1,852.5 1344.1,852.9 1291.2,854.3"/>
<path d="M2092.2,545.2 C2105.2,530.8 2118.9,517.0 2131.1,502.0 C2141.2,489.7 2150.3,476.4 2159.1,463.2 C2164.7,454.9 2171.1,446.6 2174.3,437.3 C2178.8,423.9 2182.2,409.0 2182.0,395.0 C2181.9,383.4 2178.8,370.7 2173.4,360.4 C2166.6,347.6 2156.8,334.7 2145.3,325.9 C2133.1,316.4 2116.9,311.5 2102.2,305.4 C2088.6,299.7 2074.5,295.5 2060.7,290.5"/>
<path d="M2027.9,581.9 C2011.9,587.6 1995.8,592.9 1980.0,599.1 C1862.8,645.6 1746.0,693.0 1628.9,739.9"/>
<path d="M2066.3,593.1 C2065.2,617.1 2065.4,641.2 2063.0,665.0 C2061.6,678.5 2058.8,692.0 2055.0,705.0 C2051.5,717.0 2046.2,728.6 2041.0,740.0 C2036.9,748.9 2033.0,758.4 2027.0,766.0 C2020.3,774.5 2012.5,783.8 2002.8,788.4 C1984.2,797.3 1962.6,802.2 1942.0,806.6 C1915.5,812.3 1888.5,815.7 1861.5,818.7 C1807.8,824.8 1753.9,829.9 1700.0,833.9 C1616.8,840.0 1533.4,844.8 1450.0,849.0 C1397.1,851.6 1344.1,852.5 1291.2,854.3"/>
<path d="M1799.7,488.0 L2015.2,554.1"/>
<path d="M1252.0,382.0 C1081.3,405.4 910.7,429.1 740.0,452.3 C716.4,455.5 692.8,458.3 669.2,461.3"/>
<path d="M1252.0,383.0 C1203.6,392.8 1155.5,403.7 1106.9,412.4 C1064.0,420.0 1019.2,420.5 977.4,431.8 C947.2,440.0 917.8,454.6 891.1,470.7 C874.7,480.5 859.8,494.6 847.9,509.5 C836.1,524.4 825.8,542.0 819.9,560.0 C812.7,581.7 812.2,605.7 808.4,628.6"/>
<path d="M1252.0,388.0 C1210.8,409.1 1168.0,427.5 1128.5,451.2 C1105.3,465.2 1083.3,482.2 1063.8,500.9 C1050.9,513.2 1040.2,528.6 1031.4,544.0 C1026.6,552.5 1024.4,562.7 1022.9,572.4 C1021.2,583.0 1020.6,594.1 1021.8,604.8 C1023.5,619.3 1026.5,634.2 1031.5,647.9 C1037.0,662.9 1044.6,677.6 1053.1,691.1 C1059.7,701.6 1068.5,710.8 1076.9,720.0 C1096.7,742.0 1116.6,764.0 1137.6,784.8 C1150.1,797.2 1163.9,808.2 1177.5,819.4 C1182.8,823.7 1188.6,827.3 1194.2,831.3"/>
<path d="M1283.1,401.0 C1279.1,426.1 1275.1,451.2 1271.2,476.3 C1266.4,507.5 1262.1,538.8 1257.2,570.0 C1254.2,589.3 1250.7,608.6 1247.5,627.9"/>
<path d="M1305.8,401.0 C1348.9,457.3 1392.2,513.6 1435.3,570.0 C1468.3,613.3 1501.3,656.5 1534.0,700.0 C1540.6,708.7 1546.8,717.7 1553.2,726.6"/>
<path d="M1324.1,396.5 L1698.4,549.2"/>
<path d="M1324.1,399.7 C1369.1,417.3 1413.1,437.8 1459.0,452.6 C1501.3,466.2 1545.0,475.8 1588.5,485.0 C1632.0,494.1 1676.5,498.6 1720.0,507.6 C1753.3,514.5 1785.7,525.5 1819.0,532.6 C1861.9,541.7 1905.2,549.4 1948.5,556.3 C1970.5,559.9 1992.7,561.5 2014.8,564.1"/>
<path d="M1336.0,393.6 C1352.8,399.1 1369.3,405.7 1386.3,410.1 C1407.6,415.5 1429.3,420.3 1451.1,423.0 C1486.8,427.5 1523.1,428.5 1559.0,431.7 C1587.8,434.2 1616.8,436.3 1645.3,440.3 C1657.4,442.0 1669.0,446.0 1680.8,448.9"/>
<path d="M1680.8,454.7 C1669.0,451.7 1657.4,447.6 1645.3,445.7 C1616.8,441.0 1587.9,437.8 1559.0,434.9 C1523.1,431.3 1486.9,430.7 1451.1,426.3 C1425.7,423.1 1400.4,418.3 1375.5,412.2 C1362.0,408.9 1349.1,402.8 1335.9,398.2"/>
<path d="M1107.0,545.4 C1138.0,516.6 1169.0,487.8 1200.0,459.0 C1217.2,443.0 1234.5,427.0 1251.7,411.0"/>
<path d="M1116.1,562.5 C1230.4,547.2 1344.8,532.6 1459.0,516.5 C1532.9,506.1 1606.5,494.2 1680.2,483.0"/>
<path d="M1693.4,482.6 C1615.3,494.5 1537.2,507.2 1459.0,518.3 C1349.2,533.9 1239.2,547.8 1129.3,562.5"/>
<path d="M1116.1,591.8 L1189.5,634.3"/>
<path d="M1082.2,592.9 C1084.8,611.2 1085.3,630.1 1089.8,647.9 C1093.6,662.8 1100.4,677.2 1107.1,691.1 C1111.9,701.2 1117.8,710.9 1124.3,720.0 C1145.8,750.1 1167.9,779.9 1190.9,808.8 C1195.5,814.6 1201.7,819.1 1207.2,824.2"/>
<path d="M1087.6,592.9 C1093.4,605.5 1097.9,618.8 1104.9,630.7 C1113.0,644.3 1121.5,658.8 1133.0,669.5 C1145.3,681.1 1160.7,690.3 1176.1,697.6 C1196.7,707.2 1218.7,714.9 1240.9,720.0 C1283.3,729.7 1326.7,736.3 1370.0,742.0 C1423.4,749.0 1477.3,752.7 1531.0,758.1"/>
<path d="M1693.4,497.4 C1648.9,517.8 1604.9,539.2 1560.0,558.5 C1526.8,572.8 1493.1,586.3 1459.0,598.3 C1415.5,613.6 1371.0,626.5 1327.1,640.6"/>
<path d="M1730.5,497.4 C1716.8,520.7 1702.5,543.5 1689.5,567.1 C1674.5,594.4 1661.3,622.7 1646.3,650.0 C1637.1,667.0 1626.8,683.4 1617.0,700.0 C1611.9,708.7 1606.6,717.3 1601.4,726.0"/>
<path d="M1746.7,497.4 L1746.7,532.2"/>
<path d="M1767.2,497.4 C1774.4,508.4 1783.6,518.6 1788.8,530.4 C1793.7,541.8 1797.1,554.8 1797.4,567.1 C1797.8,581.4 1793.6,596.0 1791.0,610.3 C1788.5,623.6 1785.6,636.9 1782.3,650.0 C1779.5,661.2 1777.6,672.9 1772.7,683.2 C1763.6,701.9 1754.0,721.7 1740.3,737.1 C1725.2,754.1 1706.4,769.5 1686.3,780.3 C1659.6,794.7 1629.8,806.0 1600.0,812.7 C1542.4,825.6 1482.8,831.3 1424.0,839.0 C1379.8,844.8 1335.4,848.5 1291.1,853.3"/>
<path d="M1710.7,573.2 C1660.4,578.4 1610.2,583.7 1560.0,588.7 C1526.4,592.1 1492.7,594.9 1459.0,598.3 C1372.7,607.0 1286.4,616.4 1200.0,625.3 C1145.3,630.8 1090.5,635.9 1035.8,641.4 C977.3,647.4 918.8,653.5 860.2,659.5"/>
<path d="M1727.3,593.5 C1715.4,612.3 1704.6,632.0 1691.7,650.0 C1679.1,667.5 1665.5,684.4 1650.7,700.0 C1640.6,710.7 1628.3,719.2 1617.1,728.8"/>
<path d="M1616.2,741.4 C1624.1,734.9 1631.9,728.2 1640.0,722.0 C1655.3,710.3 1672.3,700.5 1686.3,687.5 C1696.3,678.2 1704.0,666.2 1712.0,655.0 C1717.7,647.0 1722.8,638.6 1727.5,630.0 C1731.7,622.2 1735.0,613.8 1738.7,605.8"/>
<path d="M1744.5,595.2 C1742.0,613.5 1740.1,631.8 1737.0,650.0 C1735.1,661.2 1733.8,672.8 1729.5,683.2 C1722.7,699.7 1714.3,716.4 1703.6,730.7 C1692.7,745.2 1679.9,759.9 1664.8,769.5 C1645.4,781.8 1622.3,789.9 1600.0,796.5 C1579.5,802.6 1557.5,803.6 1536.3,807.6 C1498.9,814.8 1461.7,823.2 1424.2,830.0 C1379.9,838.1 1335.4,845.0 1291.0,852.5"/>
<path d="M1241.0,689.0 L1241.0,820.1"/>
<path d="M1314.4,686.8 C1354.7,697.9 1395.0,708.7 1435.3,720.0 C1467.4,729.1 1499.4,738.6 1531.4,747.9"/>
<path d="M1544.2,771.7 L1290.6,843.3"/>
</g>
<g fill="#000" stroke="#000" stroke-width="1.33">
<polygon points="1205.3,855.3 1191.9,859.6 1192.2,850.2"/>
<polygon points="657.0,177.0 642.9,177.3 645.9,168.3"/>
<polygon points="1205.3,855.3 1191.8,859.3 1192.3,849.9"/>
<polygon points="92.4,160.8 96.8,147.4 104.3,153.2"/>
<polygon points="162.4,161.0 155.2,148.9 164.4,147.0"/>
<polygon points="765.0,660.0 751.1,662.4 752.7,653.1"/>
<polygon points="1168.0,657.0 1154.3,660.5 1155.2,651.2"/>
<polygon points="1044.0,567.0 1030.5,571.2 1030.9,561.8"/>
<polygon points="552.5,449.3 539.7,443.3 546.4,436.6"/>
<polygon points="463.3,257.3 454.9,245.9 463.9,243.2"/>
<polygon points="658.0,179.3 644.1,181.6 645.7,172.4"/>
<polygon points="204.3,99.0 218.2,96.6 216.6,105.8"/>
<polygon points="504.0,264.6 514.4,255.1 518.1,263.8"/>
<polygon points="1205.3,855.3 1191.7,859.1 1192.3,849.8"/>
<polygon points="766.8,655.0 752.8,657.0 754.7,647.7"/>
<polygon points="1544.2,759.4 1530.6,763.1 1531.3,753.7"/>
<polygon points="1168.0,648.0 1153.9,648.4 1156.8,639.5"/>
<polygon points="592.0,449.3 592.4,435.2 601.1,438.6"/>
<polygon points="1693.7,452.0 1679.6,452.1 1682.7,443.2"/>
<polygon points="1252.3,363.0 1238.2,361.8 1242.1,353.3"/>
<polygon points="2028.0,567.0 2014.2,569.9 2015.4,560.6"/>
<polygon points="1711.3,562.0 1697.3,563.6 1699.4,554.5"/>
<polygon points="1061.6,545.3 1049.8,537.5 1057.3,531.9"/>
<polygon points="1252.3,372.6 1238.6,376.1 1239.5,366.7"/>
<polygon points="1205.3,855.3 1191.9,859.7 1192.1,850.3"/>
<polygon points="1043.9,561.1 1030.2,564.3 1031.2,554.9"/>
<polygon points="767.0,648.1 752.9,647.4 756.5,638.7"/>
<polygon points="1205.3,855.3 1191.7,859.2 1192.3,849.8"/>
<polygon points="1544.2,759.4 1530.5,762.9 1531.4,753.5"/>
<polygon points="1205.3,855.3 1191.4,857.8 1192.9,848.6"/>
<polygon points="1325.5,181.0 1311.9,184.6 1312.6,175.2"/>
<polygon points="1252.3,355.5 1238.4,353.0 1243.1,344.8"/>
<polygon points="1544.2,759.4 1530.6,763.0 1531.3,753.6"/>
<polygon points="1590.3,257.3 1576.5,254.3 1581.5,246.3"/>
<polygon points="1750.0,449.5 1745.7,436.1 1755.1,436.3"/>
<polygon points="1782.6,556.7 1792.4,546.5 1796.6,555.0"/>
<polygon points="2178.8,177.0 2165.2,180.7 2165.9,171.3"/>
<polygon points="2077.4,360.0 2063.3,359.2 2067.0,350.5"/>
<polygon points="2008.3,257.3 2000.3,245.7 2009.4,243.2"/>
<polygon points="2671.3,257.3 2658.0,252.6 2663.9,245.3"/>
<polygon points="2099.8,561.4 2110.8,552.6 2113.9,561.5"/>
<polygon points="1205.3,855.3 1191.6,858.7 1192.5,849.4"/>
<polygon points="1081.0,545.3 1077.1,531.7 1086.5,532.3"/>
<polygon points="1236.0,641.3 1228.9,629.1 1238.2,627.4"/>
<polygon points="1297.0,353.3 1297.3,339.2 1306.1,342.5"/>
<polygon points="1571.0,737.4 1561.8,726.7 1570.6,723.3"/>
<polygon points="1708.0,449.5 1694.3,446.2 1699.4,438.3"/>
<polygon points="1975.9,276.3 1962.0,278.8 1963.5,269.6"/>
<polygon points="2059.0,545.3 2050.9,533.7 2060.0,531.2"/>
<polygon points="1782.6,551.0 1791.3,539.9 1796.4,547.9"/>
<polygon points="1324.0,367.0 1335.5,358.8 1338.1,367.9"/>
<polygon points="847.3,642.2 856.8,631.7 861.2,640.0"/>
<polygon points="1267.0,641.3 1272.4,628.3 1279.4,634.5"/>
<polygon points="1582.3,737.4 1578.8,723.7 1588.2,724.6"/>
<polygon points="1731.6,449.5 1720.5,440.8 1728.4,435.8"/>
<polygon points="1776.4,545.3 1783.8,533.3 1789.7,540.7"/>
<polygon points="2077.4,369.0 2063.5,371.1 2065.2,361.9"/>
<polygon points="1277.9,854.7 1291.0,849.5 1291.4,858.9"/>
<polygon points="1324.0,373.0 1336.7,366.8 1337.8,376.1"/>
<polygon points="1277.9,854.7 1291.0,849.5 1291.4,858.9"/>
<polygon points="1324.0,375.5 1336.9,369.8 1337.6,379.2"/>
<polygon points="1616.5,759.3 1629.8,754.5 1629.8,763.9"/>
<polygon points="1277.9,854.7 1291.1,849.8 1291.3,859.2"/>
<polygon points="2048.2,265.0 2058.7,255.6 2062.3,264.3"/>
<polygon points="1794.0,449.5 1800.1,436.8 1806.7,443.4"/>
<polygon points="2133.5,353.3 2136.9,339.6 2144.7,344.8"/>
<polygon points="1782.7,565.0 1794.3,556.9 1796.8,566.0"/>
<polygon points="2099.8,552.0 2109.0,541.3 2113.7,549.4"/>
<polygon points="1314.7,664.8 1327.8,659.5 1328.2,668.9"/>
<polygon points="1616.5,755.3 1629.1,748.9 1630.3,758.2"/>
<polygon points="1277.9,854.7 1291.1,849.7 1291.3,859.1"/>
<polygon points="1799.7,459.5 1811.4,451.6 1813.8,460.7"/>
<polygon points="2071.0,545.2 2070.0,531.1 2079.1,533.6"/>
<polygon points="1616.5,759.3 1628.6,752.0 1630.5,761.2"/>
<polygon points="1277.9,854.7 1291.1,849.6 1291.3,859.0"/>
<polygon points="2048.2,286.0 2062.3,286.1 2059.1,294.9"/>
<polygon points="1616.6,744.8 1627.2,735.5 1630.7,744.2"/>
<polygon points="1277.9,854.7 1291.0,849.6 1291.3,859.0"/>
<polygon points="2027.9,558.0 2013.8,558.6 2016.6,549.6"/>
<polygon points="656.0,463.0 668.6,456.7 669.8,466.0"/>
<polygon points="806.2,641.7 803.8,627.8 813.0,629.4"/>
<polygon points="1205.0,839.0 1191.4,835.1 1196.9,827.5"/>
<polygon points="1245.3,641.0 1242.9,627.1 1252.1,628.7"/>
<polygon points="1561.0,737.4 1549.4,729.4 1557.0,723.9"/>
<polygon points="1710.7,554.2 1696.6,553.5 1700.2,544.8"/>
<polygon points="2028.0,565.7 2014.2,568.8 2015.3,559.5"/>
<polygon points="1323.4,389.5 1337.5,389.2 1334.6,398.1"/>
<polygon points="1693.7,452.0 1679.7,453.4 1681.9,444.3"/>
<polygon points="1693.7,458.0 1679.7,459.3 1682.0,450.2"/>
<polygon points="1323.4,393.7 1337.5,393.7 1334.4,402.6"/>
<polygon points="1261.5,402.0 1254.9,414.5 1248.6,407.6"/>
<polygon points="1693.4,481.0 1681.0,487.6 1679.5,478.3"/>
<polygon points="1116.1,564.3 1128.7,557.9 1129.9,567.2"/>
<polygon points="1201.0,641.0 1187.1,638.4 1191.9,630.3"/>
<polygon points="1216.8,833.4 1203.9,827.7 1210.4,820.8"/>
<polygon points="1544.2,759.4 1530.5,762.8 1531.4,753.4"/>
<polygon points="1314.4,644.7 1325.6,636.2 1328.5,645.1"/>
<polygon points="1594.6,737.4 1597.4,723.6 1605.5,728.4"/>
<polygon points="1746.7,545.5 1742.0,532.2 1751.4,532.2"/>
<polygon points="1277.9,854.7 1290.6,848.6 1291.6,858.0"/>
<polygon points="847.0,660.9 859.7,654.9 860.7,664.2"/>
<polygon points="1607.0,737.4 1614.0,725.2 1620.2,732.3"/>
<polygon points="1744.3,593.7 1743.0,607.7 1734.4,603.8"/>
<polygon points="1277.9,854.7 1290.2,847.9 1291.8,857.1"/>
<polygon points="1241.0,833.4 1236.3,820.1 1245.7,820.1"/>
<polygon points="1544.2,751.6 1530.1,752.4 1532.7,743.4"/>
<polygon points="1277.8,846.9 1289.3,838.8 1291.9,847.8"/>
</g>
<g style="filter:grayscale(1)">
<text x="110.9" y="154.4" text-anchor="middle">15</text>
<text x="168" y="144.6" text-anchor="middle">88</text>
<text x="222" y="112.3" text-anchor="middle">12</text>
<text x="642" y="164" text-anchor="middle">3</text>
<text x="639.6" y="170" text-anchor="middle">9</text>
<text x="1307.6" y="173.3" text-anchor="middle">3</text>
<text x="1580.6" y="242.8" text-anchor="middle">2</text>
<text x="2160.5" y="169.9" text-anchor="middle">6</text>
<text x="2012.6" y="240.7" text-anchor="middle">8</text>
<text x="1959.7" y="267.6" text-anchor="middle">10</text>
<text x="2067.6" y="268.7" text-anchor="middle">3</text>
<text x="2063.8" y="302" text-anchor="middle">1</text>
<text x="2663.4" y="242" text-anchor="middle">1</text>
<text x="467.3" y="241.2" text-anchor="middle">16</text>
<text x="524.5" y="269.4" text-anchor="middle">31</text>
<text x="1239.8" y="341.8" text-anchor="middle">21</text>
<text x="1233.5" y="351.9" text-anchor="middle">4</text>
<text x="1234.3" y="365.1" text-anchor="middle">3</text>
<text x="1311.5" y="342.5" text-anchor="middle">7</text>
<text x="1242" y="410.3" text-anchor="middle">7</text>
<text x="1344.2" y="372.3" text-anchor="middle">28</text>
<text x="1341" y="378" text-anchor="middle">2</text>
<text x="1342.7" y="384.2" text-anchor="middle">6</text>
<text x="1342.9" y="384.6" text-anchor="middle">8</text>
<text x="1338" y="403.5" text-anchor="middle">9</text>
<text x="1338" y="411" text-anchor="middle">5</text>
<text x="2063.8" y="347.9" text-anchor="middle">3</text>
<text x="2061.2" y="360.4" text-anchor="middle">1</text>
<text x="2150.7" y="345.3" text-anchor="middle">7</text>
<text x="1677" y="441.9" text-anchor="middle">31</text>
<text x="1683" y="446.5" text-anchor="middle">1</text>
<text x="1696.8" y="435.3" text-anchor="middle">15</text>
<text x="1727.7" y="432.8" text-anchor="middle">1</text>
<text x="1759.3" y="434.8" text-anchor="middle">12</text>
<text x="1815.3" y="450.5" text-anchor="middle">3</text>
<text x="1818.6" y="464" text-anchor="middle">4</text>
<text x="1674" y="478.2" text-anchor="middle">3</text>
<text x="544" y="434.5" text-anchor="middle">1</text>
<text x="606.6" y="439" text-anchor="middle">11</text>
<text x="674.4" y="472.8" text-anchor="middle">2</text>
<text x="1056.9" y="528.9" text-anchor="middle">4</text>
<text x="1090.7" y="530.7" text-anchor="middle">1</text>
<text x="1027.2" y="554" text-anchor="middle">1</text>
<text x="1135.6" y="572" text-anchor="middle">2</text>
<text x="1754.3" y="530" text-anchor="middle">6</text>
<text x="1696.4" y="543" text-anchor="middle">1</text>
<text x="1692.7" y="553" text-anchor="middle">12</text>
<text x="1795.3" y="541.2" text-anchor="middle">18</text>
<text x="1802.4" y="549.4" text-anchor="middle">6</text>
<text x="1802.8" y="559.6" text-anchor="middle">3</text>
<text x="1802.2" y="575" text-anchor="middle">2</text>
<text x="1730" y="611.4" text-anchor="middle">1</text>
<text x="2062" y="528.4" text-anchor="middle">19</text>
<text x="2084" y="532.7" text-anchor="middle">3</text>
<text x="2012.4" y="547.8" text-anchor="middle">2</text>
<text x="2011.3" y="559.2" text-anchor="middle">1</text>
<text x="2119.9" y="553.8" text-anchor="middle">5</text>
<text x="2119.9" y="566.8" text-anchor="middle">7</text>
<text x="753.8" y="636.4" text-anchor="middle">12</text>
<text x="749" y="650.1" text-anchor="middle">16</text>
<text x="750" y="650.6" text-anchor="middle">6</text>
<text x="815.7" y="625.5" text-anchor="middle">3</text>
<text x="866.9" y="644.4" text-anchor="middle">9</text>
<text x="866.6" y="670.8" text-anchor="middle">11</text>
<text x="1152.8" y="638.9" text-anchor="middle">5</text>
<text x="1150.2" y="649.4" text-anchor="middle">1</text>
<text x="1189" y="627" text-anchor="middle">2</text>
<text x="1240.9" y="625.3" text-anchor="middle">25</text>
<text x="1256" y="627.8" text-anchor="middle">2</text>
<text x="1283.6" y="637.8" text-anchor="middle">1</text>
<text x="1334" y="650.7" text-anchor="middle">8</text>
<text x="1333.3" y="675.5" text-anchor="middle">9</text>
<text x="1528.5" y="740.8" text-anchor="middle">53</text>
<text x="1525" y="752.7" text-anchor="middle">65</text>
<text x="1524" y="752.9" text-anchor="middle">6</text>
<text x="1526" y="753" text-anchor="middle">85</text>
<text x="1557.6" y="720.6" text-anchor="middle">73</text>
<text x="1574" y="720.6" text-anchor="middle">109</text>
<text x="1592.8" y="722.4" text-anchor="middle">15</text>
<text x="1613" y="728" text-anchor="middle">259</text>
<text x="1627.6" y="735.4" text-anchor="middle">26</text>
<text x="1636.8" y="749.8" text-anchor="middle">13</text>
<text x="1636" y="762.8" text-anchor="middle">19</text>
<text x="1630.5" y="767.3" text-anchor="middle">4</text>
<text x="1637.2" y="766.5" text-anchor="middle">11</text>
<text x="1210.8" y="816.6" text-anchor="middle">353</text>
<text x="1249.8" y="817.7" text-anchor="middle">255</text>
<text x="1193" y="826" text-anchor="middle">483</text>
<text x="1298.7" y="852.9" text-anchor="middle">20</text>
<text x="1296.4" y="867" text-anchor="middle">422</text>
<text x="1297" y="867.3" text-anchor="middle">153</text>
<text x="1296" y="866.6" text-anchor="middle">98</text>
<text x="1297.5" y="866.8" text-anchor="middle">529</text>
<text x="1300" y="863" text-anchor="middle">123</text>
<text x="1187.7" y="846" text-anchor="middle">277</text>
<text x="1187.2" y="851.4" text-anchor="middle">406</text>
<text x="1188" y="851" text-anchor="middle">153</text>
<text x="1188" y="846.5" text-anchor="middle">88</text>
<text x="121" y="33" text-anchor="middle">protocols</text>
<text x="147" y="93" text-anchor="middle">topology_broker</text>
<text x="72.3" y="189.13" text-anchor="middle">weights</text>
<text x="168.3" y="189.13" text-anchor="middle">claims</text>
<text x="692.3" y="189.13" text-anchor="middle">abinitio</text>
<text x="1360.3" y="189.13" text-anchor="middle">docking</text>
<text x="2244.8" y="189.13" text-anchor="middle">symmetric_docking</text>
<text x="467.3" y="285.13" text-anchor="middle">jumping</text>
<text x="1622.3" y="285.13" text-anchor="middle">comparative_modeling</text>
<text x="2011.3" y="285.13" text-anchor="middle">scoring</text>
<text x="2698.3" y="285.13" text-anchor="middle">fibril</text>
<text x="1287.3" y="381.13" text-anchor="middle">loops</text>
<text x="2116.3" y="381.13" text-anchor="middle">symmetry</text>
<text x="582.3" y="477.13" text-anchor="middle">constraints_additional</text>
<text x="1746.3" y="477.13" text-anchor="middle">simple_moves</text>
<text x="1079.3" y="573.13" text-anchor="middle">toolbox</text>
<text x="1745.8" y="573.13" text-anchor="middle">jd2</text>
<text x="2063.8" y="573.13" text-anchor="middle">rigid</text>
<text x="806.3" y="669.13" text-anchor="middle">evaluation</text>
<text x="1240.8" y="669.13" text-anchor="middle">minimization_packing</text>
<text x="1579.3" y="765.13" text-anchor="middle">moves</text>
<text x="1241.3" y="861.13" text-anchor="middle">core</text>
</g>
</svg></body></html>
